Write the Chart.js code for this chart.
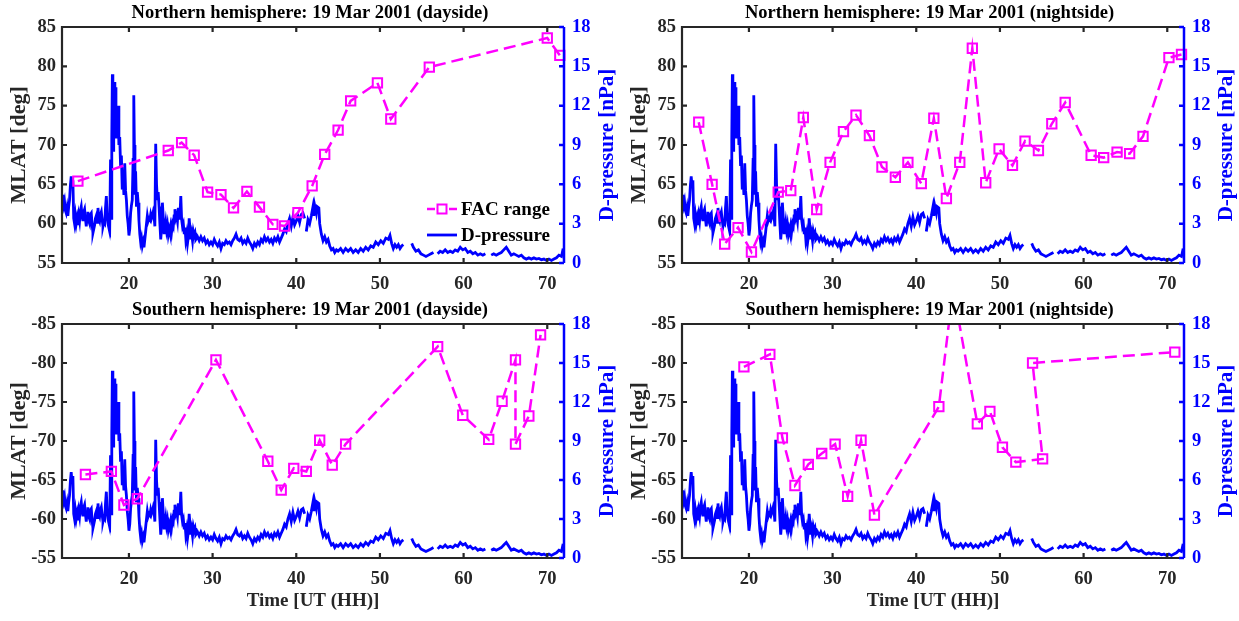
<!DOCTYPE html>
<html>
<head>
<meta charset="utf-8">
<script src="https://cdn.jsdelivr.net/npm/chart.js@4.4.1/dist/chart.umd.min.js"></script>
<style>
  body { margin: 0; background: #fff; }
  #wrap { position: relative; width: 1239px; height: 621px; }
  canvas { position: absolute; }
</style>
</head>
<body>
<div id="wrap">
  <canvas id="nDay" width="620" height="297" style="left:0;top:0"></canvas>
  <canvas id="nNight" width="619" height="297" style="left:620px;top:0"></canvas>
  <canvas id="sDay" width="620" height="324" style="left:0;top:297px"></canvas>
  <canvas id="sNight" width="619" height="324" style="left:620px;top:297px"></canvas>
</div>
<script>
// Time axis ticks (hours from 00 UT of 18 Mar)
const hourTicks = [20, 30, 40, 50, 60, 70];

// Solar wind dynamic pressure, same trace on every panel
const pressureHours = [
  12.0, 12.1, 12.2, 12.3, 12.4, 12.5, 12.6, 12.7, 12.8, 12.9,
  13.0, 13.1, 13.2, 13.3, 13.4, 13.5, 13.6, 13.7, 13.8, 13.9,
  14.0, 14.1, 14.2, 14.3, 14.4, 14.5, 14.6, 14.7, 14.8, 14.9,
  15.0, 15.1, 15.2, 15.3, 15.4, 15.5, 15.6, 15.7, 15.8, 15.9,
  16.0, 16.1, 16.2, 16.3, 16.4, 16.5, 16.6, 16.7, 16.8, 16.9,
  17.0, 17.1, 17.2, 17.3, 17.4, 17.5, 17.6, 17.7, 17.8, 17.88,
  17.95, 18.02, 18.08, 18.12, 18.18, 18.25, 18.32, 18.38, 18.45, 18.52,
  18.6, 18.7, 18.8, 18.9, 19.0, 19.1, 19.2, 19.3, 19.4, 19.5,
  19.6, 19.7, 19.8, 19.9, 20.0, 20.1, 20.2, 20.3, 20.4, 20.5,
  20.58, 20.65, 20.72, 20.8, 20.9, 21.0, 21.1, 21.2, 21.3, 21.4,
  21.5, 21.6, 21.7, 21.8, 21.9, 22.0, 22.1, 22.2, 22.3, 22.4,
  22.5, 22.6, 22.7, 22.8, 22.9, 23.0, 23.1, 23.2, 23.3, 23.4,
  23.5, 23.6, 23.7, 23.8, 23.9, 24.0, 24.1, 24.2, 24.3, 24.4,
  24.5, 24.6, 24.7, 24.8, 24.9, 25.0, 25.1, 25.2, 25.3, 25.4,
  25.5, 25.6, 25.7, 25.8, 25.9, 26.0, 26.1, 26.2, 26.3, 26.4,
  26.5, 26.6, 26.7, 26.8, 26.9, 27.0, 27.1, 27.2, 27.3, 27.4,
  27.5, 27.6, 27.7, 27.8, 27.9, 28.0, 28.2, 28.4, 28.6, 28.8,
  29.0, 29.2, 29.4, 29.6, 29.8, 30.0, 30.2, 30.4, 30.6, 30.8,
  31.0, 31.2, 31.4, 31.6, 31.8, 32.0, 32.2, 32.4, 32.6, 32.8,
  33.0, 33.2, 33.4, 33.6, 33.8, 34.0, 34.2, 34.4, 34.6, 34.8,
  35.0, 35.2, 35.4, 35.6, 35.8, 36.0, 36.2, 36.4, 36.6, 36.8,
  37.0, 37.2, 37.4, 37.6, 37.8, 38.0, 38.2, 38.4, 38.6, 38.8,
  39.0, 39.2, 39.4, 39.6, 39.8, 40.0, 40.2, 40.4, 40.6, 40.8,
  41.0, 41.1, 41.2, 41.4, 41.6, 41.8, 42.0, 42.1, 42.2, 42.4,
  42.5, 42.7, 42.8, 43.0, 43.2, 43.4, 43.6, 43.8, 44.0, 44.2,
  44.4, 44.6, 44.8, 45.0, 45.3, 45.6, 45.9, 46.2, 46.5, 46.8,
  47.1, 47.4, 47.7, 48.0, 48.3, 48.6, 48.9, 49.2, 49.5, 49.8,
  50.1, 50.4, 50.7, 51.0, 51.2, 51.4, 51.6, 51.8, 52.0, 52.2,
  52.4, 52.6, 52.8, 53.2, 53.8, 54.0, 54.3, 54.6, 54.9, 55.2,
  55.5, 55.8, 56.1, 56.4, 56.6, 56.9, 57.2, 57.5, 57.8, 58.1,
  58.4, 58.7, 59.0, 59.3, 59.6, 59.9, 60.2, 60.5, 60.8, 61.1,
  61.4, 61.7, 62.0, 62.3, 62.6, 62.9, 63.3, 63.6, 63.9, 64.2,
  64.5, 64.8, 65.1, 65.4, 65.7, 66.0, 66.3, 66.6, 66.9, 67.2,
  67.5, 67.8, 68.1, 68.4, 68.7, 69.0, 69.3, 69.6, 69.9, 70.2,
  70.5, 70.8, 71.1, 71.4, 71.7, 71.9
];
const pressureNPa = [
  5.2, 5.0, 4.4, 4.7, 4.0, 3.8, 4.2, 3.6, 4.3, 4.8,
  5.9, 6.6, 5.8, 6.3, 3.4, 3.0, 3.6, 3.0, 3.4, 2.9,
  3.6, 3.2, 4.0, 4.3, 3.6, 3.2, 3.9, 4.1, 3.4, 2.8,
  3.5, 3.9, 3.2, 3.0, 3.7, 3.8, 2.9, 2.3, 2.6, 2.9,
  3.4, 3.6, 3.1, 4.2, 3.4, 3.2, 3.7, 3.9, 3.3, 2.8,
  3.1, 3.0, 4.2, 5.1, 3.6, 3.0, 2.7, 2.5, 7.9, 3.4,
  9.5, 14.4, 11.5, 8.6, 13.0, 13.8, 11.0, 13.4, 9.5, 11.8,
  10.2, 12.0, 9.0, 9.6, 7.4, 8.2, 5.6, 6.5, 5.2, 7.6,
  5.5, 4.8, 3.6, 3.0, 2.1, 2.6, 3.8, 4.4, 4.8, 7.9,
  12.8, 9.0, 5.2, 7.0, 4.3, 5.4, 4.6, 3.2, 2.2, 1.6,
  1.9, 1.3, 1.6, 1.2, 1.8, 2.4, 3.0, 3.6, 3.2, 3.4,
  3.3, 3.7, 3.4, 3.6, 3.9, 3.6, 2.8, 9.1, 6.0, 4.8,
  5.4, 4.3, 3.0, 1.8, 2.6, 4.6, 3.5, 2.3, 2.6, 3.1,
  2.5, 2.9, 2.2, 2.6, 2.3, 2.8, 2.4, 3.0, 2.8, 3.6,
  4.1, 3.4, 3.6, 3.2, 4.2, 3.4, 3.7, 5.1, 3.3, 2.8,
  3.0, 2.3, 2.7, 1.8, 2.2, 1.5, 2.0, 3.4, 2.6, 1.8,
  2.2, 1.7, 2.4, 2.1, 2.3, 1.8, 2.0, 1.7, 2.0, 1.7,
  1.9, 1.5, 1.7, 1.4, 1.6, 1.4, 1.8, 1.5, 1.3, 1.6,
  1.1, 1.5, 1.4, 1.7, 1.5, 1.6, 1.4, 1.7, 1.9, 2.2,
  1.8, 1.7, 1.9, 1.5, 1.7, 1.5, 1.9, 1.6, 1.4, 1.1,
  1.5, 1.3, 1.6, 1.4, 1.8, 1.6, 2.0, 1.7, 1.9, 1.6,
  1.8, 1.5, 1.9, 1.7, 2.0, 1.6, 1.9, 2.2, 2.6, 2.4,
  3.0, 3.4, 2.8, 3.5, 2.9, 3.2, 3.6, 3.1, 3.7, 3.8,
  3.4, null, 2.4, 3.3, 3.0, 3.6, 4.3, 3.6, 4.4, 3.8,
  4.3, 4.2, 3.0, 2.2, 1.7, 2.0, 1.6, 1.8, 1.3, 1.0,
  1.1, 0.8, 1.0, 0.9, 1.1, 0.8, 1.1, 0.9, 1.1, 0.8,
  1.0, 0.8, 1.1, 0.9, 1.2, 1.0, 1.3, 1.2, 1.6, 1.4,
  1.7, 1.5, 1.9, 1.8, 2.1, 1.5, 1.1, 1.4, 1.2, 1.4,
  1.1, 1.3, 1.4, null, 1.5, 1.2, 0.9, 1.0, 0.7, 0.6,
  0.5, 0.6, 0.7, 0.8, null, 0.7, 0.9, 0.8, 1.0, 0.8,
  0.9, 0.8, 1.0, 0.9, 1.2, 1.0, 1.1, 0.8, 0.9, 0.7,
  0.8, 0.6, 0.7, 0.6, 0.7, null, 0.6, 0.7, 0.6, 0.7,
  0.8, 1.0, 1.2, 0.9, 0.6, 0.7, 0.6, 0.5, 0.6, 0.4,
  0.3, 0.4, 0.3, 0.4, 0.3, 0.35, 0.25, 0.3, 0.2, 0.3,
  0.2, 0.3, 0.4, 0.6, 0.5, 1.1
];

// FAC range, northern hemisphere dayside
const nDayHours = [13.9, 24.7, 26.3, 27.8, 29.4, 31.0, 32.5, 34.1, 35.6, 37.2, 38.6,
  40.2, 41.9, 43.4, 45.0, 46.5, 49.7, 51.3, 55.9, 70.0, 71.5];
const nDayMlat = [65.4, 69.3, 70.3, 68.7, 64.0, 63.7, 62.0, 64.1, 62.1, 59.9, 59.7,
  61.4, 64.8, 68.8, 71.9, 75.6, 77.9, 73.3, 79.9, 83.6, 81.4];

// FAC range, northern hemisphere nightside
const nNightHours = [14.0, 15.6, 17.1, 18.7, 20.3, 23.5, 25.0, 26.5, 28.1, 29.7, 31.3, 32.8,
  34.4, 35.9, 37.5, 39.0, 40.6, 42.1, 43.6, 45.2, 46.7, 48.3, 49.9, 51.5,
  53.0, 54.6, 56.2, 57.8, 60.9, 62.4, 64.0, 65.5, 67.1, 70.2, 71.7];
const nNightMlat = [72.9, 65.0, 57.4, 59.5, 56.4, 64.0, 64.2, 73.5, 61.8, 67.8, 71.7, 73.8,
  71.2, 67.2, 65.9, 67.8, 65.1, 73.4, 63.2, 67.8, 82.3, 65.2, 69.5, 67.4,
  70.5, 69.3, 72.7, 75.4, 68.7, 68.4, 69.1, 68.9, 71.1, 81.1, 81.5];

// FAC range, southern hemisphere dayside
const sDayHours = [14.8, 17.9, 19.4, 21.0, 30.4, 36.6, 38.2, 39.7, 41.2, 42.8, 44.3,
  45.9, 56.9, 59.9, 63.0, 64.6, 66.2, 66.2, 67.8, 69.2];
const sDayMlat = [-65.7, -66.1, -61.8, -62.6, -80.4, -67.4, -63.7, -66.5, -66.1, -70.1, -66.9,
  -69.6, -82.1, -73.3, -70.2, -75.1, -80.4, -69.6, -73.2, -83.6];

// FAC range, southern hemisphere nightside
const sNightHours = [19.4, 22.5, 24.0, 25.5, 27.1, 28.7, 30.3, 31.8, 33.4, 35.0, 42.7,
  44.4, 47.3, 48.8, 50.3, 51.9, 55.1, 53.9, 70.9];
const sNightMlat = [-79.5, -81.1, -70.4, -64.3, -67.0, -68.4, -69.6, -62.9, -70.1, -60.5, -74.4,
  -89.5, -72.2, -73.8, -69.2, -67.3, -67.7, -80.0, -81.4];

const FONT = 'Liberation Serif';
const MAGENTA = '#ff00ff';
const BLUE = '#0000ff';
const DARK = '#262626';

// box around the plot with inward tick marks, right axis in blue
const frameTicks = {
  id: 'frameTicks',
  afterDatasetsDraw(chart) {
    const { ctx, chartArea: a, scales } = chart;
    const len = 5;
    ctx.save();
    ctx.lineWidth = 2.2;
    ctx.strokeStyle = DARK;
    ctx.beginPath();
    ctx.moveTo(a.right, a.top);
    ctx.lineTo(a.left, a.top);
    ctx.lineTo(a.left, a.bottom);
    ctx.lineTo(a.right, a.bottom);
    scales.x.ticks.forEach(t => {
      const px = scales.x.getPixelForValue(t.value);
      ctx.moveTo(px, a.bottom); ctx.lineTo(px, a.bottom - len);
      ctx.moveTo(px, a.top); ctx.lineTo(px, a.top + len);
    });
    scales.y.ticks.forEach(t => {
      const py = scales.y.getPixelForValue(t.value);
      ctx.moveTo(a.left, py); ctx.lineTo(a.left + len, py);
    });
    ctx.stroke();

    ctx.strokeStyle = BLUE;
    ctx.lineWidth = 2.5;
    ctx.beginPath();
    ctx.moveTo(a.right, a.top);
    ctx.lineTo(a.right, a.bottom);
    scales.y1.ticks.forEach(t => {
      const py = scales.y1.getPixelForValue(t.value);
      ctx.moveTo(a.right, py); ctx.lineTo(a.right - len, py);
    });
    ctx.stroke();

    // right axis title reads bottom to top, like the left one
    ctx.fillStyle = BLUE;
    ctx.font = 'bold 21px "' + FONT + '"';
    ctx.textAlign = 'center';
    ctx.textBaseline = 'middle';
    ctx.translate(chart.width - 12, (a.top + a.bottom) / 2);
    ctx.rotate(-Math.PI / 2);
    ctx.fillText('D-pressure [nPa]', 0, 0);
    ctx.restore();
  }
};

// legend drawn inside the plot area
const inlineLegend = {
  id: 'inlineLegend',
  afterDraw(chart, args, opts) {
    if (!opts.show) return;
    const ctx = chart.ctx;
    chart.data.datasets.forEach((ds, i) => {
      const y = opts.top + i * opts.gap;
      ctx.save();
      ctx.strokeStyle = ds.borderColor;
      ctx.lineWidth = ds.borderWidth;
      if (ds.borderDash) {
        ctx.beginPath();
        ctx.moveTo(opts.left, y); ctx.lineTo(opts.left + 8, y);
        ctx.moveTo(opts.left + 22, y); ctx.lineTo(opts.left + 30, y);
        ctx.stroke();
        ctx.lineWidth = 2;
        ctx.strokeRect(opts.left + 10.5, y - 4.5, 9, 9);
      } else {
        ctx.beginPath();
        ctx.moveTo(opts.left, y); ctx.lineTo(opts.left + 30, y);
        ctx.stroke();
      }
      ctx.fillStyle = '#000';
      ctx.font = 'bold 19px "' + FONT + '"';
      ctx.textBaseline = 'middle';
      ctx.fillText(ds.label, opts.left + 34, y + 1);
      ctx.restore();
    });
  }
};

function buildPanel(id, title, facHours, facMlat, southern, xAxisHeight, showLegend) {
  const canvas = document.getElementById(id);
  const tickFont = { family: FONT, size: 18.5, weight: 'bold' };
  return new Chart(canvas, {
    type: 'line',
    data: {
      datasets: [{
        label: 'FAC range',
        data: facHours.map((h, i) => ({ x: h, y: facMlat[i] })),
        yAxisID: 'y',
        borderColor: MAGENTA,
        borderWidth: 2.5,
        borderDash: [12, 6],
        pointStyle: 'rect',
        pointRadius: 6.6,
        pointBorderWidth: 2,
        pointBorderColor: MAGENTA,
        pointBackgroundColor: 'rgba(0,0,0,0)',
        clip: { left: 8, right: 8, top: 0, bottom: 8 }
      }, {
        label: 'D-pressure',
        data: pressureHours.map((h, i) => ({ x: h, y: pressureNPa[i] })),
        yAxisID: 'y1',
        borderColor: BLUE,
        borderWidth: 2.8,
        pointRadius: 0,
        spanGaps: false
      }]
    },
    options: {
      responsive: false,
      animation: false,
      events: [],
      layout: { padding: 0 },
      plugins: {
        legend: { display: false },
        tooltip: { enabled: false },
        title: {
          display: true,
          text: title,
          color: '#000',
          font: { family: FONT, size: 18.5, weight: 'bold' },
          padding: { top: 2, bottom: 2.8 }
        },
        inlineLegend: { show: showLegend, left: 427, top: 209, gap: 26 }
      },
      scales: {
        x: {
          type: 'linear',
          min: 12,
          max: 72,
          afterBuildTicks: s => { s.ticks = hourTicks.map(v => ({ value: v })); },
          grid: { display: false, drawTicks: false },
          border: { display: false },
          ticks: { font: tickFont, color: DARK, padding: 10, maxRotation: 0 },
          title: {
            display: southern,
            text: 'Time [UT (HH)]',
            color: DARK,
            font: { family: FONT, size: 19, weight: 'bold' },
            padding: { top: 0, bottom: 8.6 }
          },
          afterFit: s => { s.height = xAxisHeight; }
        },
        y: {
          type: 'linear',
          position: 'left',
          min: southern ? -85 : 55,
          max: southern ? -55 : 85,
          reverse: southern,
          grid: { display: false, drawTicks: false },
          border: { display: false },
          ticks: { stepSize: 5, font: tickFont, color: DARK, padding: 6 },
          title: {
            display: true,
            text: 'MLAT [deg]',
            color: DARK,
            font: { family: FONT, size: 22, weight: 'bold' },
            padding: { top: 6, bottom: 0 }
          },
          afterFit: s => { s.width = 62; }
        },
        y1: {
          type: 'linear',
          position: 'right',
          min: 0,
          max: 18,
          grid: { display: false, drawTicks: false },
          border: { display: false },
          ticks: { stepSize: 3, font: tickFont, color: BLUE, padding: 8 },
          title: { display: false },
          afterFit: s => { s.width = canvas.width - 564; }
        }
      }
    },
    plugins: [frameTicks, inlineLegend]
  });
}

buildPanel('nDay', 'Northern hemisphere: 19 Mar 2001 (dayside)', nDayHours, nDayMlat, false, 34, true);
buildPanel('nNight', 'Northern hemisphere: 19 Mar 2001 (nightside)', nNightHours, nNightMlat, false, 34, false);
buildPanel('sDay', 'Southern hemisphere: 19 Mar 2001 (dayside)', sDayHours, sDayMlat, true, 63, false);
buildPanel('sNight', 'Southern hemisphere: 19 Mar 2001 (nightside)', sNightHours, sNightMlat, true, 63, false);
</script>
</body>
</html>
